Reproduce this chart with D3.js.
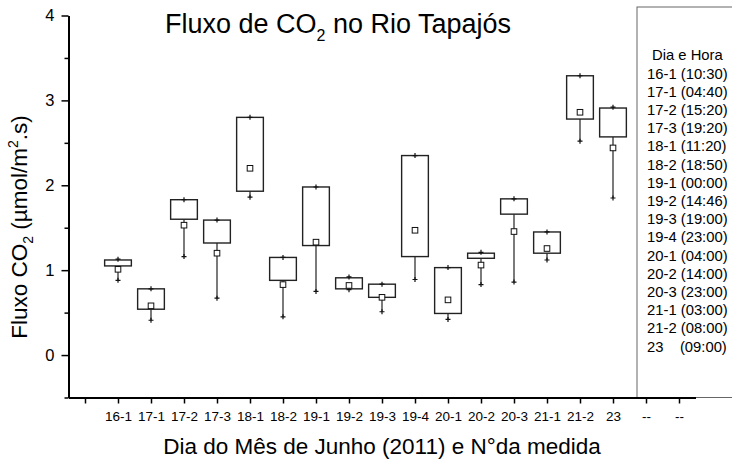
<!DOCTYPE html>
<html>
<head>
<meta charset="utf-8">
<script src="https://cdn.jsdelivr.net/npm/d3@7"></script>
<style>
  body { margin: 0; background: #fff; }
</style>
</head>
<body>
<div id="chart"></div>
<script>
// medidas (dia-n°)
const labels = ["16-1","17-1","17-2","17-3","18-1","18-2","19-1","19-2","19-3","19-4","20-1","20-2","20-3","21-1","21-2","23"];
// fluxo de CO2 (µmol/m².s)
const minV  = [0.88, 0.41, 1.16, 0.67, 1.86, 0.45, 0.75, 0.77, 0.51, 0.89, 0.42, 0.83, 0.86, 1.12, 2.52, 1.85];
const q1V   = [1.05, 0.54, 1.60, 1.32, 1.93, 0.88, 1.29, 0.78, 0.68, 1.16, 0.49, 1.14, 1.66, 1.20, 2.78, 2.57];
const q3V   = [1.12, 0.78, 1.83, 1.59, 2.80, 1.15, 1.98, 0.91, 0.835, 2.35, 1.03, 1.20, 1.84, 1.45, 3.29, 2.91];
const maxV  = [1.13, 0.78, 1.83, 1.59, 2.80, 1.15, 1.98, 0.92, 0.835, 2.35, 1.03, 1.21, 1.84, 1.45, 3.29, 2.92];
const meanV = [1.01, 0.58, 1.53, 1.20, 2.20, 0.83, 1.33, 0.82, 0.68, 1.47, 0.65, 1.06, 1.455, 1.255, 2.86, 2.44];

// rótulos do eixo x: posição 0 vazia e duas finais "--"
const xTickLabels = ["", ...labels, "--", "--"];
const yTicks = [0, 1, 2, 3, 4];
const yMinor = [-0.5, 0.5, 1.5, 2.5, 3.5];

const legendTitle = "Dia e Hora";
const legendItems = ["16-1 (10:30)","17-1 (04:40)","17-2 (15:20)","17-3 (19:20)","18-1 (11:20)","18-2 (18:50)",
  "19-1 (00:00)","19-2 (14:46)","19-3 (19:00)","19-4 (23:00)","20-1 (04:00)","20-2 (14:00)","20-3 (23:00)",
  "21-1 (03:00)","21-2 (08:00)","23    (09:00)"];

const width = 732, height = 459;
const font = "'Liberation Sans', Arial, sans-serif";

const data = labels.map((l, i) => ({
  label: l, pos: i + 1,
  min: minV[i], q1: q1V[i], q3: q3V[i], max: maxV[i], mean: meanV[i]
}));

const x = d3.scaleLinear().domain([-0.5, 18.5]).range([68.5, 695.5]);
const y = d3.scaleLinear().domain([-0.5, 4]).range([397.5, 15.5]);
const boxW = (x(1) - x(0)) * 0.81;

const svg = d3.select("#chart")
  .append("svg")
  .attr("width", width)
  .attr("height", height)
  .attr("viewBox", [0, 0, width, height])
  .style("font-family", font);

// caixas
const g = svg.append("g");
const boxes = g.selectAll(".box")
  .data(data)
  .join("g")
  .attr("class", "box");

boxes.append("line")
  .attr("x1", d => x(d.pos)).attr("x2", d => x(d.pos))
  .attr("y1", d => y(d.q1)).attr("y2", d => y(d.min))
  .attr("stroke", "#222").attr("stroke-width", 1.2);

boxes.append("line")
  .attr("x1", d => x(d.pos)).attr("x2", d => x(d.pos))
  .attr("y1", d => y(d.q3)).attr("y2", d => y(d.max))
  .attr("stroke", "#222").attr("stroke-width", 1.2);

boxes.append("rect")
  .attr("x", d => x(d.pos) - boxW / 2)
  .attr("y", d => y(d.q3))
  .attr("width", boxW)
  .attr("height", d => y(d.q1) - y(d.q3))
  .attr("fill", "none")
  .attr("stroke", "#222")
  .attr("stroke-width", 1.4);

// marcadores "+" em min e max
const cross = (px, py, s) => `M${px - s},${py}H${px + s}M${px},${py - s}V${py + s}`;
boxes.append("path")
  .attr("d", d => cross(x(d.pos), y(d.min), 2.5) + cross(x(d.pos), y(d.max), 2.5))
  .attr("stroke", "#111").attr("stroke-width", 1.2).attr("fill", "none");

// média
boxes.append("rect")
  .attr("x", d => x(d.pos) - 2.8)
  .attr("y", d => y(d.mean) - 2.8)
  .attr("width", 5.6).attr("height", 5.6)
  .attr("fill", "#fff").attr("stroke", "#111").attr("stroke-width", 1);

// caixa da legenda
svg.append("rect")
  .attr("x", 637).attr("y", 7)
  .attr("width", 120).attr("height", y(-0.5) - 7)
  .attr("fill", "#fff").attr("stroke", "#666").attr("stroke-width", 1);

const lg = svg.append("g").attr("font-size", 14.8).attr("fill", "#000");
lg.append("text").attr("x", 652).attr("y", 60).text(legendTitle);
lg.selectAll(".item")
  .data(legendItems)
  .join("text")
  .attr("class", "item")
  .attr("x", 647)
  .attr("y", (d, i) => 78.5 + i * 18.2)
  .attr("xml:space", "preserve")
  .style("white-space", "pre")
  .text(d => d);

// eixo y
svg.append("g")
  .attr("transform", `translate(${x(-0.5)},0)`)
  .call(d3.axisLeft(y).tickValues(yMinor).tickSize(4).tickFormat(""))
  .call(a => a.select(".domain").remove())
  .call(a => a.selectAll("line").attr("stroke-width", 1.5));

svg.append("g")
  .attr("transform", `translate(${x(-0.5)},0)`)
  .call(d3.axisLeft(y).tickValues(yTicks).tickSize(7).tickSizeOuter(0).tickPadding(7).tickFormat(d3.format("d")))
  .call(a => a.select(".domain").attr("stroke-width", 2))
  .call(a => a.selectAll("line").attr("stroke-width", 1.5))
  .call(a => a.selectAll("text").attr("font-size", 16.5).attr("font-family", font));

// eixo x
svg.append("g")
  .attr("transform", `translate(0,${y(-0.5)})`)
  .call(d3.axisBottom(x).tickValues(d3.range(19)).tickSize(6).tickSizeOuter(0).tickPadding(8)
    .tickFormat(i => xTickLabels[i]))
  .call(a => a.select(".domain").attr("stroke-width", 2))
  .call(a => a.selectAll("line").attr("stroke-width", 1.5))
  .call(a => a.selectAll("text").attr("font-size", 13.5).attr("font-family", font));

// título
const title = svg.append("text")
  .attr("x", 165).attr("y", 33)
  .attr("font-size", 27);
title.append("tspan").text("Fluxo de CO");
title.append("tspan").attr("font-size", 16).attr("dy", 8).text("2");
title.append("tspan").attr("dy", -8).text(" no Rio Tapajós");

// rótulo eixo y
const yl = svg.append("text")
  .attr("transform", "translate(27,227) rotate(-90)")
  .attr("text-anchor", "middle")
  .attr("font-size", 22.5);
yl.append("tspan").text("Fluxo CO");
yl.append("tspan").attr("font-size", 14).attr("dy", 6).text("2");
yl.append("tspan").attr("dy", -6).text(" (\u00b5mol/m");
yl.append("tspan").attr("font-size", 14).attr("dy", -9).text("2");
yl.append("tspan").attr("dy", 9).text(".s)");

// rótulo eixo x
svg.append("text")
  .attr("x", 382).attr("y", 454)
  .attr("text-anchor", "middle")
  .attr("font-size", 22.5)
  .text("Dia do Mês de Junho (2011) e N°da medida");
</script>
</body>
</html>
